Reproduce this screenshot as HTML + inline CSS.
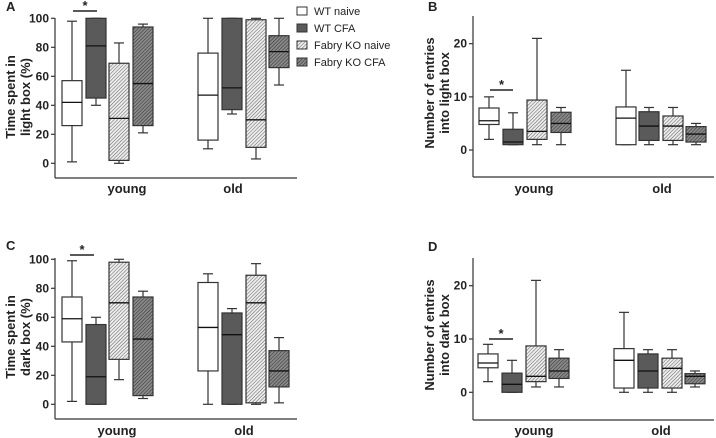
<!DOCTYPE html>
<html><head><meta charset="utf-8"><style>
body{margin:0;background:#fff}
svg{display:block;font-family:"Liberation Sans",Arial,sans-serif}
.t{font-size:12px;font-weight:bold;fill:#222}
.lab{font-size:13px;font-weight:bold;fill:#222}
.leg{font-size:11px;fill:#222}
</style></head><body>
<svg id="c" width="716" height="438" xmlns="http://www.w3.org/2000/svg">
<defs>
<pattern id="hl" patternUnits="userSpaceOnUse" width="2.5" height="2.5" patternTransform="rotate(45)"><rect width="2.5" height="2.5" fill="#eee"/><line x1="0" y1="0" x2="0" y2="2.5" stroke="#666" stroke-width="1.1"/></pattern>
<pattern id="hd" patternUnits="userSpaceOnUse" width="2.5" height="2.5" patternTransform="rotate(45)"><rect width="2.5" height="2.5" fill="#8a8a8a"/><line x1="0" y1="0" x2="0" y2="2.5" stroke="#333" stroke-width="1.1"/></pattern>
</defs>
<g id="legend">
<rect x="297" y="7" width="10" height="8" fill="#fff" stroke="#333"/>
<text class="leg" x="314" y="15">WT naive</text>
<rect x="297" y="24" width="10" height="8" fill="#5a5a5a" stroke="#333"/>
<text class="leg" x="314" y="32">WT CFA</text>
<rect x="297" y="41" width="10" height="8" fill="url(#hl)" stroke="#333"/>
<text class="leg" x="314" y="49">Fabry KO naive</text>
<rect x="297" y="58" width="10" height="8" fill="url(#hd)" stroke="#333"/>
<text class="leg" x="314" y="66">Fabry KO CFA</text>
</g>
</svg>
<script>
// each row: [whiskerLow, q1, median, q3, whiskerHigh]; order: young WTn, WTc, FKn, FKc, old WTn, WTc, FKn, FKc
const groups = ["young","old"];
const seriesNames = ["WT naive","WT CFA","Fabry KO naive","Fabry KO CFA"];
const dataA = [[1,26,42,57,98],[40,45,81,100,100],[0,2,31,69,83],[21,26,55,94,96],[10,16,47,76,100],[34,37,52,100,100],[3,11,30,99,100],[54,66,77,88,100]];
const dataB = [[2,4.8,5.5,7.9,10],[1,1,1.5,3.9,7],[1,2,3.5,9.4,21],[1,3.3,5,7.1,8],[1,1,6,8.1,15],[1,1.8,4.5,7.2,8],[1,1.8,4.5,6.4,8],[1,1.5,3,4.4,5]];
const dataC = [[2,43,59,74,99],[0,0,19,55,60],[17,31,70,98,100],[4,6,45,74,78],[0,23,53,84,90],[0,0,48,63,66],[0,1,70,89,97],[1,12,23,37,46]];
const dataD = [[2,4.6,5.5,7.2,9],[0,0,1.5,3.6,6],[1,2,3,8.7,21],[1,2.6,4,6.4,8],[0,0.8,6,8.2,15],[0,0.8,4,7.2,8],[0,0.8,4.5,6.4,8],[1,1.6,3,3.5,4]];
const ticksPct = [0,20,40,60,80,100];
const ticksCnt = [0,10,20];

const NS="http://www.w3.org/2000/svg", svg=document.getElementById('c');
const fills=["#fff","#5a5a5a","url(#hl)","url(#hd)"];
function mk(t,a,p){const e=document.createElementNS(NS,t);for(const k in a)e.setAttribute(k,a[k]);(p||svg).appendChild(e);return e;}
function panel(P){
  const g=mk('g',{});
  
  
  const y=v=>P.y0+(v-P.v0)*(P.y1-P.y0)/(P.v1-P.v0);
  const t=mk('text',{x:P.lx,y:P.ly,class:'lab'},g);t.textContent=P.id;
  
  
  mk('line',{x1:P.ax,y1:P.atop,x2:P.ax,y2:P.abot,stroke:'#333','stroke-width':1.2},g);
  mk('line',{x1:P.ax,y1:P.abot,x2:P.aright,y2:P.abot,stroke:'#333','stroke-width':1.2},g);
  P.ticks.forEach(v=>{
    mk('line',{x1:P.ax-4,y1:y(v),x2:P.ax,y2:y(v),stroke:'#333','stroke-width':1.2},g);
    const tt=mk('text',{x:P.ax-6,y:y(v)+4,class:'t','text-anchor':'end'},g);tt.textContent=v;
    
    
  });
  const yl=mk('text',{class:'lab','text-anchor':'middle',transform:`translate(${P.ylx},${P.yly}) rotate(-90)`},g);
  
  
  P.ytitle.forEach((s,i)=>{const ts=mk('tspan',{x:0,dy:i?15:0},yl);ts.textContent=s;});
  groups.forEach((gn,i)=>{const gt=mk('text',{x:P.gx[i],y:P.gy,class:'lab','text-anchor':'middle'},g);gt.textContent=gn;
    
    });
  P.data.forEach((d,i)=>{
    const x=P.bx[i], w=20, cx=x+w/2;
    const b=mk('g',{},g);
    
    
    mk('line',{x1:cx,y1:y(d[0]),x2:cx,y2:y(d[4]),stroke:'#333','stroke-width':1.2},b);
    mk('line',{x1:cx-5,y1:y(d[0]),x2:cx+5,y2:y(d[0]),stroke:'#333','stroke-width':1.2},b);
    mk('line',{x1:cx-5,y1:y(d[4]),x2:cx+5,y2:y(d[4]),stroke:'#333','stroke-width':1.2},b);
    mk('rect',{x:x,y:y(d[3]),width:w,height:Math.max(0.5,y(d[1])-y(d[3])),fill:fills[i%4],stroke:'#333','stroke-width':1.2},b);
    mk('line',{x1:x,y1:y(d[2]),x2:x+w,y2:y(d[2]),stroke:'#111','stroke-width':1.3},b);
  });
  mk('line',{x1:P.sig[0],y1:P.sig[2],x2:P.sig[1],y2:P.sig[2],stroke:'#222','stroke-width':1.5},g);
  const st=mk('text',{x:(P.sig[0]+P.sig[1])/2,y:P.sig[2]-1,class:'lab','text-anchor':'middle'},g);st.textContent='*';
  
  
}
const bxL=[62,86,109,133,198,222,246,269], bxR=[479,503,527,551,616,639,663,686];
panel({id:'A',data:dataA,ticks:ticksPct,v0:0,v1:100,y0:163.3,y1:18.3,ax:55,atop:18,abot:178,aright:297,bx:bxL,
  lx:6,ly:11,ylx:15,yly:97,ytitle:['Time spent in','light box (%)'],gx:[127,233],gy:193,sig:[73,97,11]});
panel({id:'B',data:dataB,ticks:ticksCnt,v0:0,v1:20,y0:150,y1:43.7,ax:473,atop:16,abot:177,aright:714,bx:bxR,
  lx:428,ly:11,ylx:434,yly:93,ytitle:['Number of entries','into light box'],gx:[534,662],gy:193,sig:[490,513,90]});
panel({id:'C',data:dataC,ticks:ticksPct,v0:0,v1:100,y0:404.3,y1:259.3,ax:55,atop:258,abot:419,aright:297,bx:bxL,
  lx:6,ly:250,ylx:15,yly:337,ytitle:['Time spent in','dark box (%)'],gx:[117,244],gy:435,sig:[70,94,255]});
panel({id:'D',data:dataD,ticks:ticksCnt,v0:0,v1:20,y0:392.3,y1:285.7,ax:473,atop:258,abot:420,aright:714,bx:[478,502,526,549,614,638,662,685],
  lx:428,ly:251,ylx:434,yly:335,ytitle:['Number of entries','into dark box'],gx:[534,661],gy:435,sig:[489,513,339]});
</script>
</body></html>
